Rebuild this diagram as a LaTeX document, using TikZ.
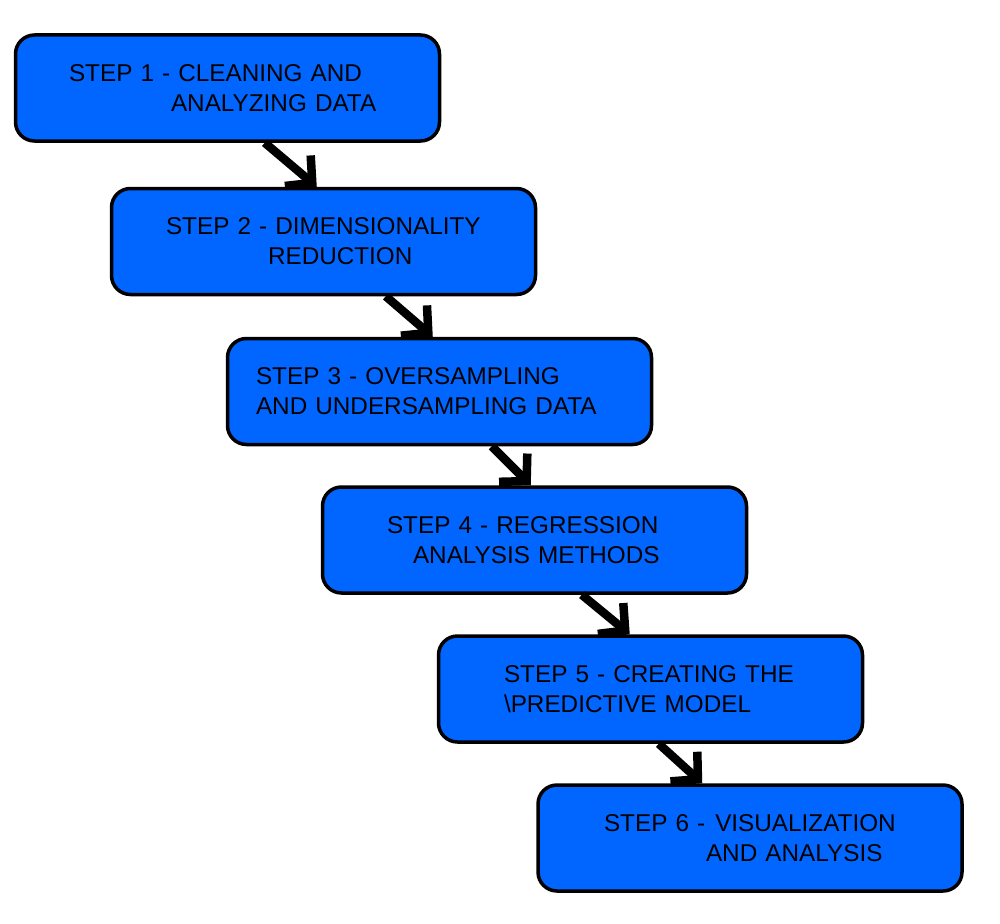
\documentclass[tikz,border=0pt]{standalone}
\usepackage{fontspec}
\setmainfont{Liberation Sans}
\usetikzlibrary{arrows.meta,calc}
\definecolor{stepblue}{HTML}{0066FF}
\begin{document}
\begin{tikzpicture}[x=1pt,y=1pt,
  stepbox/.style={draw=black, line width=3.5pt, fill=stepblue, rounded corners=19pt,
    minimum width=424pt, minimum height=106pt, align=left,
    font=\fontsize{24.3}{30}\selectfont, inner sep=0pt},
  flowarrow/.style={line width=8.5pt, draw=black,
    -{Straight Barb[length=19pt, width=40pt, line width=8.5pt]}}]
\useasboundingbox (0,0) rectangle (1000,-923);
\node[stepbox, text width=317pt] (s1) at (227.5,-88)
  {\mbox{STEP 1 - CLEANING AND}\\\mbox{\hspace*{102pt}ANALYZING DATA}};
\node[stepbox, text width=315pt] (s2) at (323.5,-241.5)
  {\mbox{STEP 2 - DIMENSIONALITY}\\\mbox{\hspace*{102pt}REDUCTION}};
\node[stepbox, text width=367pt] (s3) at (439.5,-391.5)
  {\mbox{STEP 3 - OVERSAMPLING}\\\mbox{AND UNDERSAMPLING DATA}};
\node[stepbox, text width=295pt] (s4) at (534.5,-540)
  {\mbox{STEP 4 - REGRESSION}\\\mbox{\hspace*{26pt}ANALYSIS METHODS}};
\node[stepbox, text width=293pt] (s5) at (650.5,-689)
  {\mbox{STEP 5 - CREATING THE}\\\mbox{\textbackslash PREDICTIVE MODEL}};
\node[stepbox, text width=292pt] (s6) at (750,-838)
  {\mbox{STEP 6 -\hspace{10pt}VISUALIZATION}\\\mbox{\hspace*{102pt}AND ANALYSIS}};
\draw[flowarrow] ($(s1.south west)+(251,0)$) -- ($(s2.north west)+(207,0)$);
\draw[flowarrow] ($(s2.south west)+(276,0)$) -- ($(s3.north west)+(207,0)$);
\draw[flowarrow] ($(s3.south west)+(266,0)$) -- ($(s4.north west)+(210,0)$);
\draw[flowarrow] ($(s4.south west)+(261,0)$) -- ($(s5.north west)+(193,0)$);
\draw[flowarrow] ($(s5.south west)+(222,0)$) -- ($(s6.north west)+(166,0)$);
\end{tikzpicture}
\end{document}
